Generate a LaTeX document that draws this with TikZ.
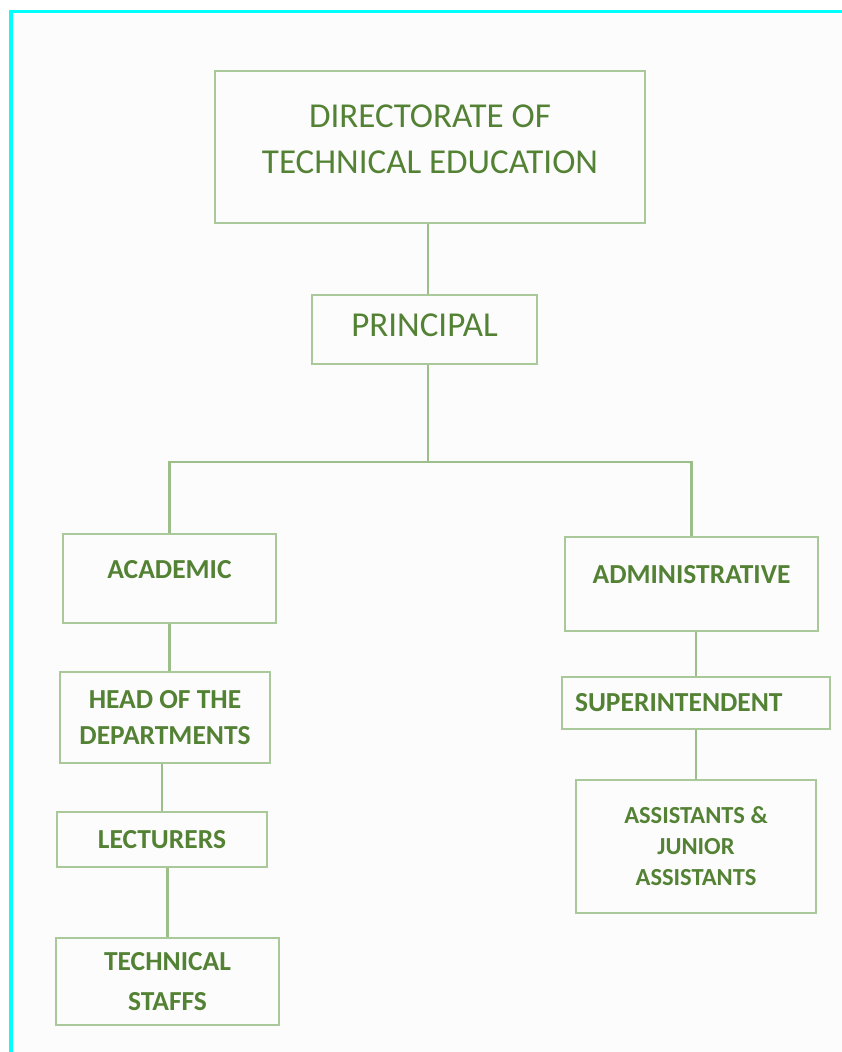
\documentclass[tikz,border=0pt]{standalone}
\usepackage{fontspec}
\setmainfont{Carlito}
\usepackage{xcolor}
\definecolor{orggreen}{RGB}{84,130,53}
\definecolor{boxline}{RGB}{169,201,155}
\definecolor{linkline}{RGB}{156,191,138}
\definecolor{frameblue}{RGB}{0,255,255}
\definecolor{pagebg}{RGB}{252,252,252}

\begin{document}
\begin{tikzpicture}[x=1pt,y=-1pt,
  orgbox/.style={draw=boxline,line width=2.8pt,inner sep=0pt,text=orggreen,align=center},
  bigtxt/.style={font=\fontsize{35}{46}\selectfont},
  smalltxt/.style={font=\bfseries\fontsize{27.5}{36}\selectfont},
  link/.style={draw=linkline,line width=2.6pt}]
  \useasboundingbox (0,0) rectangle (842,1052);
  \fill[white] (0,0) rectangle (842,1052);
  \fill[pagebg] (11,11.5) rectangle (842,1052);
  \draw[frameblue,line width=3.5pt] (11,1052) -- (11,11.5) -- (842,11.5);

  % Top
  \node[orgbox,bigtxt,minimum width=430pt,minimum height=152pt] (dte) at (430,147) {DIRECTORATE OF\\TECHNICAL EDUCATION\rule[-15pt]{0pt}{15pt}};
  \node[orgbox,bigtxt,minimum width=225pt,minimum height=69pt,text depth=8pt] (prin) at (424.5,329.5) {PRINCIPAL};

  % Academic side
  \node[orgbox,smalltxt,minimum width=213pt,minimum height=89pt,text depth=19pt] (acad) at (169.5,578.5) {ACADEMIC};
  \node[orgbox,smalltxt,minimum width=210pt,minimum height=91pt] (hod) at (165,717.5) {HEAD OF THE\\DEPARTMENTS};
  \node[orgbox,smalltxt,minimum width=210pt,minimum height=55pt] (lect) at (162,839.5) {LECTURERS};
  \node[orgbox,font=\bfseries\fontsize{27.5}{40}\selectfont,minimum width=223pt,minimum height=87pt] (tech) at (167.5,981.5) {TECHNICAL\\STAFFS};

  % Administrative side
  \node[orgbox,smalltxt,minimum width=253pt,minimum height=94pt,text depth=19pt] (admin) at (691.5,584) {ADMINISTRATIVE};
  \node[orgbox,smalltxt,minimum width=268pt,minimum height=52pt] (supt) at (696,703) {\makebox[242pt][l]{SUPERINTENDENT}};
  \node[orgbox,font=\bfseries\fontsize{24.5}{31}\selectfont,minimum width=240pt,minimum height=133pt] (asst) at (696,846.5) {ASSISTANTS \&\\JUNIOR\\ASSISTANTS};

  % Links
  \coordinate (bus) at (428,462);
  \draw[link] (dte.south -| bus) -- (prin.north -| bus);
  \draw[link] (prin.south -| bus) -- (bus);
  \draw[link] (acad.north) |- (bus) -| (admin.north);
  \draw[link] (acad.south) -- (acad.south |- hod.north);
  \draw[link] (lect.north |- hod.south) -- (lect.north);
  \draw[link] (tech.north |- lect.south) -- (tech.north);
  \draw[link] (supt.north |- admin.south) -- (supt.north);
  \draw[link] (supt) -- (asst);
\end{tikzpicture}
\end{document}
